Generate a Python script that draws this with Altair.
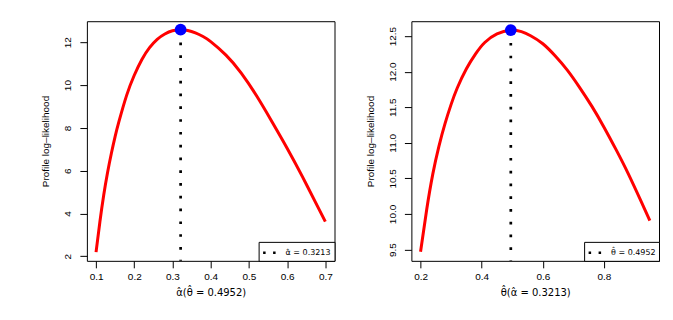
import altair as alt
import pandas as pd

# ---- data ----
alpha_x = [0.10, 0.11, 0.12, 0.13, 0.14, 0.15, 0.16, 0.18, 0.20, 0.22, 0.24, 0.26, 0.28,
           0.30, 0.3213, 0.34, 0.36, 0.38, 0.40, 0.44, 0.48, 0.52, 0.56, 0.60, 0.64, 0.68, 0.70]
alpha_ll = [2.19, 3.60, 4.85, 5.90, 6.80, 7.60, 8.30, 9.52, 10.46, 11.20, 11.75, 12.14, 12.39,
            12.54, 12.59, 12.555, 12.44, 12.27, 12.03, 11.40, 10.56, 9.50, 8.30, 7.05, 5.72,
            4.32, 3.62]
theta_x = [0.20, 0.22, 0.24, 0.26, 0.28, 0.30, 0.32, 0.35, 0.38, 0.41, 0.45, 0.4952, 0.53,
           0.56, 0.60, 0.64, 0.68, 0.72, 0.76, 0.80, 0.84, 0.88, 0.92, 0.95]
theta_ll = [9.47, 10.06, 10.56, 10.95, 11.27, 11.54, 11.77, 12.04, 12.25, 12.41, 12.53, 12.584,
            12.562, 12.505, 12.392, 12.223, 12.022, 11.780, 11.515, 11.220, 10.900, 10.560,
            10.190, 9.905]

alpha_hat, alpha_max = 0.3213, 12.59
theta_hat, theta_max = 0.4952, 12.584

left_xticks = [0.1, 0.2, 0.3, 0.4, 0.5, 0.6, 0.7]
left_yticks = [2, 4, 6, 8, 10, 12]
right_xticks = [0.2, 0.4, 0.6, 0.8]
right_yticks = [9.5, 10.0, 10.5, 11.0, 11.5, 12.0, 12.5]

FONT = "Liberation Sans"
HATFONT = "DejaVu Sans"


def panel(xs, ys, mle, peak, xdom, ydom, xticks, yticks, xfmt, yfmt, xtitle, leglabel):
    curve = pd.DataFrame({"x": xs, "y": ys})
    pt = pd.DataFrame({"x": [mle], "y": [peak]})
    rule_df = pd.DataFrame({"x": [mle], "y": [peak], "y2": [ydom[0]], "lab": [leglabel]})

    xsc = alt.Scale(domain=xdom, nice=False, zero=False)
    ysc = alt.Scale(domain=ydom, nice=False, zero=False)
    xax = alt.Axis(values=xticks, format=xfmt, title=xtitle, grid=False, domain=False,
                   tickColor="black", tickSize=7, labelPadding=4, labelFontSize=10,
                   labelColor="black", labelFont=FONT, titleFont=HATFONT, titleFontSize=10,
                   titleFontWeight="normal", titleColor="black", titlePadding=6,
                   labelOverlap=False)
    yax = alt.Axis(values=yticks, format=yfmt, title="Profile log\u2013likelihood", grid=False,
                   domain=False, tickColor="black", tickSize=7, labelPadding=7,
                   labelAngle=270, labelAlign="center", labelBaseline="bottom",
                   labelFontSize=10, labelColor="black", labelFont=FONT, titleFont=FONT,
                   titleFontSize=10, titleFontWeight="normal", titleColor="black",
                   titlePadding=12, labelOverlap=False)
    X = alt.X("x:Q", scale=xsc, axis=xax)
    Y = alt.Y("y:Q", scale=ysc, axis=yax)

    line = alt.Chart(curve).mark_line(color="#FF0000", strokeWidth=3, interpolate="natural").encode(
        x=X, y=Y,
    )
    rule = alt.Chart(rule_df).mark_rule(strokeWidth=2.7, strokeDash=[2.7, 10.1]).encode(
        x=X,
        y=Y,
        y2="y2:Q",
        color=alt.Color("lab:N", scale=alt.Scale(domain=[leglabel], range=["black"]),
                        legend=alt.Legend(title=None, orient="bottom-right", offset=0,
                                          padding=3, strokeColor="black", fillColor="white",
                                          cornerRadius=0, symbolType="stroke", symbolSize=169,
                                          symbolStrokeWidth=2.5, symbolDash=[2.5, 7.5],
                                          symbolStrokeColor="black", labelFontSize=8,
                                          labelFont=HATFONT, labelColor="black",
                                          labelOffset=8)),
    )
    dot = alt.Chart(pt).mark_circle(color="#0000FF", size=140, opacity=1).encode(
        x=X, y=Y
    )
    return alt.layer(line, rule, dot).properties(width=248, height=240)


left = panel(alpha_x, alpha_ll, alpha_hat, alpha_max, [0.076, 0.724], [1.784, 12.986],
             left_xticks, left_yticks, ".1f", "d", "\u03b1\u0302(\u03b8\u0302 = 0.4952)",
             "\u03b1\u0302 = 0.3213")
right = panel(theta_x, theta_ll, theta_hat, theta_max, [0.17, 0.98], [9.341, 12.709],
              right_xticks, right_yticks, ".1f", ".1f", "\u03b8\u0302(\u03b1\u0302 = 0.3213)",
              "\u03b8\u0302 = 0.4952")

chart = alt.hconcat(left, right, spacing=29).resolve_scale(color="independent").resolve_legend(
    color="independent"
).properties(
    padding={"left": 32, "top": 12, "right": 5, "bottom": 5}
).configure(background="white").configure_view(stroke="black", strokeWidth=1)

chart.save("out.html", embed_options={"renderer": "svg", "actions": False})
